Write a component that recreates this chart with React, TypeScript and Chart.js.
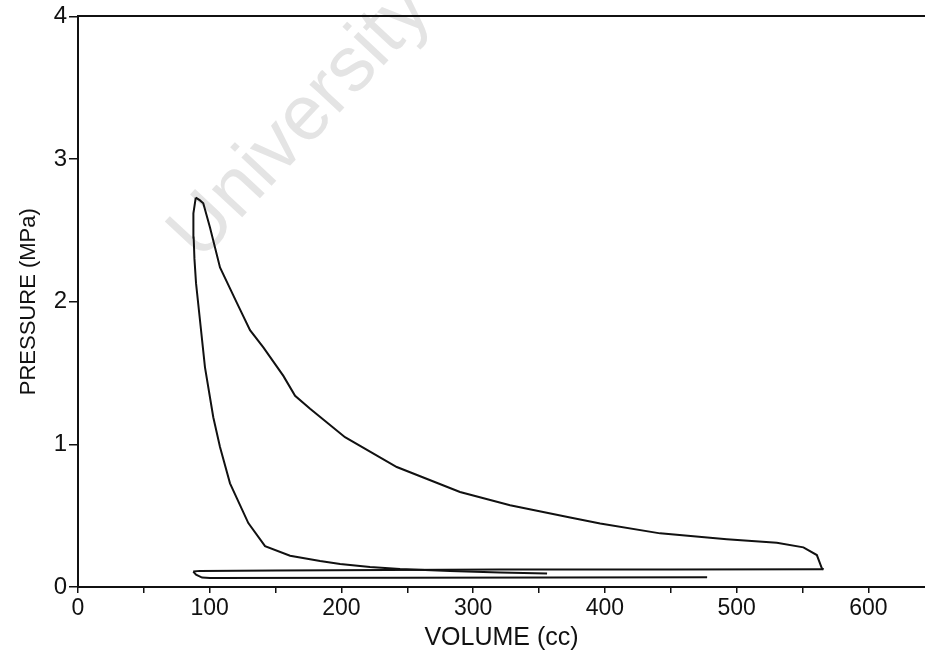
import React, { useEffect, useRef } from 'react';
import { Chart, registerables } from 'chart.js';

Chart.register(...registerables);

// Compression stroke (from low pressure up to the peak)
const compressionVolume = [356.1, 320.4, 282.5, 244.5, 221.7, 199.0, 183.8, 161.0, 142.0, 129.3, 115.4, 107.8, 102.7, 96.4, 92.6, 89.6, 88.4, 87.8, 87.6, 89.4];
const compressionPressure = [0.094, 0.101, 0.112, 0.126, 0.140, 0.161, 0.182, 0.219, 0.287, 0.448, 0.727, 0.981, 1.19, 1.54, 1.87, 2.13, 2.30, 2.45, 2.62, 2.73];

// Expansion stroke (peak down to bottom dead centre)
const expansionVolume = [89.4, 92.6, 95.1, 100.2, 107.8, 120.7, 130.6, 140.7, 155.9, 164.8, 176.2, 202.7, 242.0, 290.0, 328.0, 373.6, 396.4, 441.9, 492.5, 530.5, 550.7, 560.9, 564.7, 565.9];
const expansionPressure = [2.73, 2.71, 2.69, 2.52, 2.24, 1.99, 1.80, 1.68, 1.48, 1.34, 1.25, 1.05, 0.841, 0.666, 0.573, 0.487, 0.445, 0.376, 0.334, 0.310, 0.278, 0.224, 0.131, 0.124];

// Exhaust stroke
const exhaustVolume = [565.9, 450.0, 320.0, 150.0, 92.6, 87.5];
const exhaustPressure = [0.124, 0.123, 0.122, 0.115, 0.113, 0.108];

// Intake stroke
const intakeVolume = [87.5, 89.6, 94.2, 100.2, 244.5, 477.6];
const intakePressure = [0.108, 0.087, 0.066, 0.063, 0.064, 0.068];

const xTickValues = [0, 50, 100, 150, 200, 250, 300, 350, 400, 450, 500, 550, 600];
const yTickValues = [0, 1, 2, 3, 4];

const FONT = '"Liberation Sans", Arial, Helvetica, sans-serif';
const INK = '#111111';

const watermark = {
  id: 'watermark',
  beforeDraw(chart: any) {
    const { ctx, chartArea } = chart;
    ctx.save();
    ctx.translate(chartArea.left + 122, chartArea.top + 246);
    ctx.rotate((-47 * Math.PI) / 180);
    ctx.font = '78px ' + FONT;
    ctx.fillStyle = 'rgb(228,228,228)';
    ctx.textAlign = 'left';
    ctx.textBaseline = 'alphabetic';
    ctx.fillText('University of Cape Town', 0, 0);
    ctx.restore();
  },
};

export default function App() {
  const ref = useRef<HTMLCanvasElement>(null);

  useEffect(() => {
    const pts = (v: number[], p: number[]) => v.map((x, i) => ({ x, y: p[i] }));
    const ds = (v: number[], p: number[]) => ({
      data: pts(v, p),
      borderColor: INK,
      borderWidth: 2,
      pointRadius: 0,
      tension: 0,
      fill: false,
    });

    const chart = new Chart(ref.current as HTMLCanvasElement, {
      type: 'line',
      data: {
        datasets: [
          ds(compressionVolume, compressionPressure),
          ds(expansionVolume, expansionPressure),
          ds(exhaustVolume, exhaustPressure),
          ds(intakeVolume, intakePressure),
        ] as any,
      },
      options: {
        animation: false,
        responsive: false,
        layout: { padding: 0 },
        plugins: { legend: { display: false }, tooltip: { enabled: false } },
        scales: {
          x: {
            type: 'linear',
            position: 'bottom',
            min: 0,
            max: 643,
            afterBuildTicks: (a: any) => {
              a.ticks = xTickValues.map((value) => ({ value }));
            },
            afterFit: (a: any) => {
              a.height = 69;
            },
            ticks: {
              autoSkip: false,
              maxRotation: 0,
              color: INK,
              padding: 2,
              font: { family: FONT, size: 23 },
              callback: (v: any) => (Number(v) % 100 === 0 ? String(v) : ''),
            },
            grid: { drawOnChartArea: false, drawTicks: true, tickLength: 6, color: INK, lineWidth: 1.5 },
            border: { display: true, color: INK, width: 2 },
            title: {
              display: true,
              text: 'VOLUME (cc)',
              color: INK,
              font: { family: FONT, size: 25 },
              padding: { top: 0, bottom: 3 },
            },
          },
          xTop: {
            type: 'linear',
            position: 'top',
            min: 0,
            max: 643,
            afterFit: (a: any) => {
              a.height = 15;
            },
            ticks: { display: false },
            grid: { drawOnChartArea: false, drawTicks: false },
            border: { display: true, color: INK, width: 2 },
          },
          y: {
            type: 'linear',
            position: 'left',
            min: 0,
            max: 4,
            afterBuildTicks: (a: any) => {
              a.ticks = yTickValues.map((value) => ({ value }));
            },
            afterFit: (a: any) => {
              a.width = 78;
            },
            ticks: {
              color: INK,
              padding: 2,
              font: { family: FONT, size: 24 },
              callback: (v: any) => String(v),
            },
            grid: { drawOnChartArea: false, drawTicks: true, tickLength: 9, color: INK, lineWidth: 1.5 },
            border: { display: true, color: INK, width: 2 },
            title: {
              display: true,
              text: 'PRESSURE (MPa)',
              color: INK,
              font: { family: FONT, size: 22 },
              padding: { top: 16, bottom: 0 },
            },
          },
        },
      } as any,
      plugins: [watermark],
    });
    return () => chart.destroy();
  }, []);

  return (
    <div style={{ position: 'fixed', left: 0, top: 0, width: 925, height: 656, background: '#ffffff' }}>
      <canvas ref={ref} width={925} height={656} style={{ display: 'block', width: 925, height: 656 }} />
    </div>
  );
}
